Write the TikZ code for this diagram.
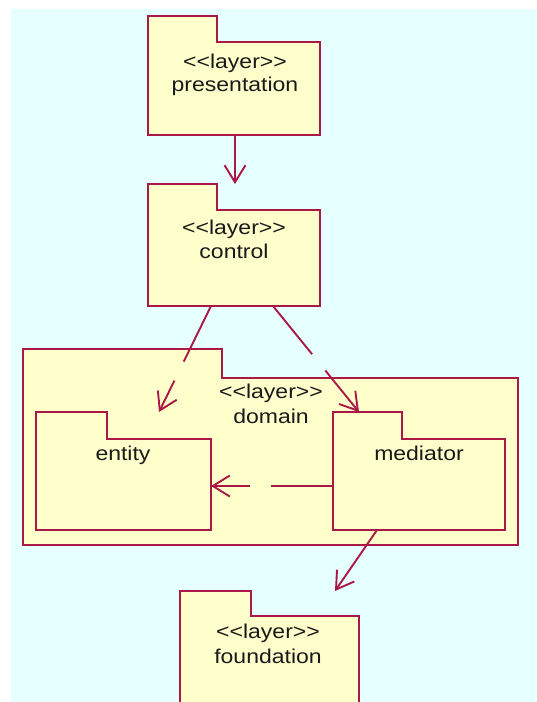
\documentclass[tikz,border=0pt]{standalone}
\usepackage{fontspec}
\newfontfamily\umlfont[FakeStretch=1.15]{Liberation Sans}
\usetikzlibrary{arrows.meta}

\definecolor{canvas}{RGB}{230,255,255}
\definecolor{pkgfill}{RGB}{255,255,204}
\definecolor{pkgedge}{RGB}{170,25,70}
\definecolor{inktext}{RGB}{25,25,25}

\tikzset{
  pkgbox/.style={rectangle, inner sep=0pt, outer sep=0pt},
  pkgline/.style={draw=pkgedge, fill=pkgfill, line width=1.9pt, line join=miter},
  umltext/.style={inner sep=0pt, anchor=base, text=inktext,
    font=\umlfont\fontsize{20}{24}\selectfont},
  dep/.style={draw=pkgedge, line width=1.9pt,
    -{Straight Barb[length=17pt, width=21pt, line width=1.9pt]}},
  dashdep/.style={dep, dash pattern=on 62pt off 21pt},
}

% #1 name, #2 left x, #3 body top y, #4 body width, #5 body height,
% #6 tab width, #7 tab height
\newcommand\umlpackage[7]{%
  \node[pkgbox, minimum width=#4pt, minimum height=#5pt, anchor=north west]
    (#1) at (#2,#3) {};
  \coordinate (#1-tab) at ([yshift=#7pt]#1.north west);
  \path[pkgline] (#1.south west) -- (#1-tab)
    -- ([xshift=#6pt]#1-tab) -- ([xshift=#6pt]#1.north west)
    -- (#1.north east) -- (#1.south east) -- cycle;
}

\begin{document}
\begin{tikzpicture}[x=1pt, y=-1pt]
  \useasboundingbox (0,0) rectangle (537,702);
  \clip (0,0) rectangle (537,702);
  \fill[white] (0,0) rectangle (537,702);
  \fill[canvas] (11,9) rectangle (537,702);

  % packages
  \umlpackage{pres}{148}{42}{172}{93}{69}{26}
  \umlpackage{ctrl}{148}{210}{172}{96}{69}{26}
  \umlpackage{domain}{23}{378}{495}{167}{199}{29}
  \umlpackage{entity}{36}{439}{175}{91}{71}{27}
  \umlpackage{med}{333}{439}{172}{91}{69}{27}
  \umlpackage{found}{180}{616}{179}{110}{71}{25}

  % labels
  \node[umltext] (pres-st)   at (235,68)  {<<layer>>};
  \node[umltext] (pres-nm)   at (235,91)  {presentation};
  \node[umltext] (ctrl-st)   at (234,234) {<<layer>>};
  \node[umltext] (ctrl-nm)   at (234,258) {control};
  \node[umltext] (domain-st) at (271,398) {<<layer>>};
  \node[umltext] (domain-nm) at (271,423) {domain};
  \node[umltext] (entity-nm) at (123,460) {entity};
  \node[umltext] (med-nm)    at (419,460) {mediator};
  \node[umltext] (found-st)  at (268,638) {<<layer>>};
  \node[umltext] (found-nm)  at (268,663) {foundation};

  % dependencies
  \draw[dep] ([xshift=1pt]pres.south) -- ([xshift=1pt]pres.south |- ctrl-tab);
  \draw[dashdep] ([xshift=63pt]ctrl.south west) -- ([xshift=123pt]entity-tab);
  \draw[dashdep] ([xshift=125pt]ctrl.south west) -- ([xshift=26pt]med-tab);
  \draw[dashdep] ([yshift=-1.5pt]med.west) -- ([yshift=-1.5pt]entity.east);
  \draw[dep] ([xshift=44pt]med.south west) -- ([xshift=155pt]found-tab);
\end{tikzpicture}
\end{document}
